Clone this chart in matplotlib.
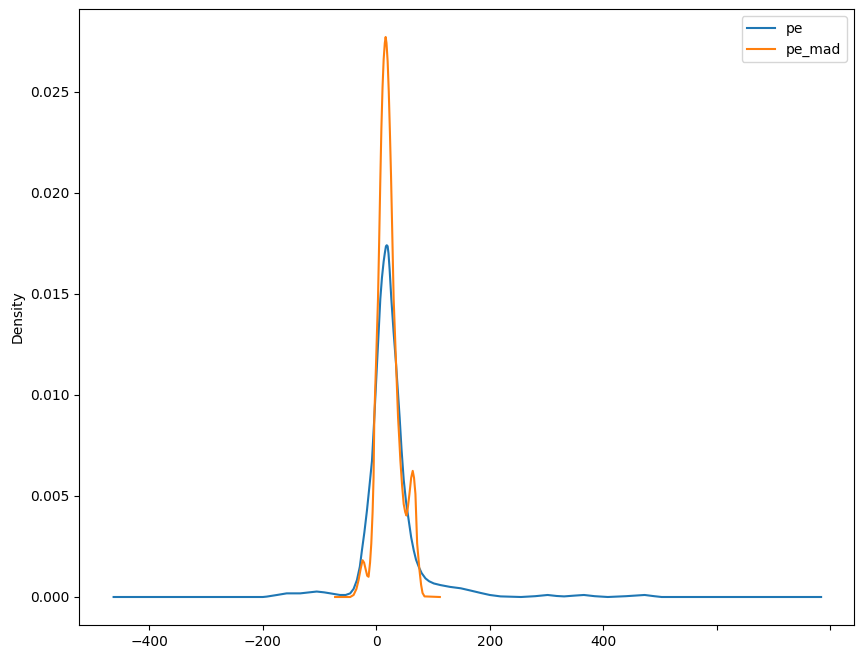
import numpy as np
import matplotlib
matplotlib.use('Agg')
import matplotlib.pyplot as plt

# density curves (x, density)
pe_x = [-463, -300, -200, -193, -175, -158, -134, -118, -105, -92, -81, -64, -54,
        -46, -40, -34.2, -29, -25.3, -21, -16.5, -12, -7.6, -3.5, 1.2, 4.5, 7.1,
        10, 13, 15, 17, 18.5, 20, 21.5, 23.5, 26.5, 30.5, 34.9, 38, 41.2, 44.5,
        48.3, 52.5, 57.2, 61.5, 66, 70, 74.9, 80, 86.7, 93, 101.4, 113, 130,
        149, 166, 184, 200, 219, 255, 280, 302, 318, 331, 350, 366, 385, 408,
        440, 473, 490, 503, 600, 784]
pe_y = [0, 0, 0, 0.00002, 0.0001, 0.00018, 0.00018, 0.00023, 0.00027, 0.00023,
        0.00018, 0.0001, 0.0001, 0.00018, 0.0004, 0.00083, 0.0015, 0.00231,
        0.0032, 0.00427, 0.0055, 0.00673, 0.00886, 0.01149, 0.0133, 0.01475,
        0.0158, 0.0166, 0.0170, 0.01735, 0.0174, 0.01735, 0.0170, 0.0162,
        0.01475, 0.0131, 0.01149, 0.0102, 0.00886, 0.0073, 0.00581, 0.0047,
        0.00378, 0.00295, 0.00231, 0.00185, 0.00149, 0.00118, 0.00092, 0.00078,
        0.00067, 0.00059, 0.0005, 0.00043, 0.00032, 0.0002, 0.0001, 0.00003, 0,
        0.00004, 0.0001, 0.00005, 0.00003, 0.00007, 0.0001, 0.00004, 0, 0.00004,
        0.0001, 0.00004, 0, 0, 0]

mad_x = [-72.6, -46, -40, -35, -31.3, -27.5, -24.2, -21.5, -19, -16, -13.6, -11,
         -8.8, -6.5, -4.8, -3.5, -2, -0.5, 1.2, 3, 5, 7, 9, 11, 13, 15, 16.5,
         18, 20, 22, 24, 26, 28, 30.6, 32.8, 34.9, 38.4, 40.5, 42.5, 45.5, 48.3,
         51, 53.1, 55.5, 58.4, 61.5, 64.2, 66.5, 69, 72, 76.1, 79, 81.5, 85,
         112]
mad_y = [0, 0, 0.0001, 0.0004, 0.00083, 0.0014, 0.00182, 0.0017, 0.0014,
         0.00105, 0.001, 0.0017, 0.00265, 0.0042, 0.00591, 0.00886, 0.0102,
         0.01149, 0.0131, 0.01475, 0.0175, 0.0205, 0.0232, 0.0252, 0.0266,
         0.0274, 0.0277, 0.0274, 0.0265, 0.025, 0.023, 0.0208, 0.0182, 0.01475,
         0.0131, 0.01149, 0.00886, 0.0078, 0.00673, 0.0055, 0.0046, 0.0042,
         0.00403, 0.0044, 0.00509, 0.0059, 0.00624, 0.0059, 0.00509, 0.00265,
         0.00133, 0.0006, 0.0002, 0.00003, 0]

xticks = [-400, -200, 0, 200, 400, 600, 800]
xticklabels = ['\u2212400', '\u2212200', '0', '200', '400', '', '']

fig = plt.figure(figsize=(8.64, 6.59), dpi=100)
ax = fig.add_axes([79/864, 34/659, 775/864, 616/659])
ax.plot(pe_x, pe_y, label='pe')
ax.plot(mad_x, mad_y, label='pe_mad')
ax.set_xlim(-524, 842)
ax.set_xticks(xticks)
ax.set_xticklabels(xticklabels)
ax.set_ylabel('Density')
ax.legend(loc='upper right')
fig.savefig('out.png', dpi=100)
